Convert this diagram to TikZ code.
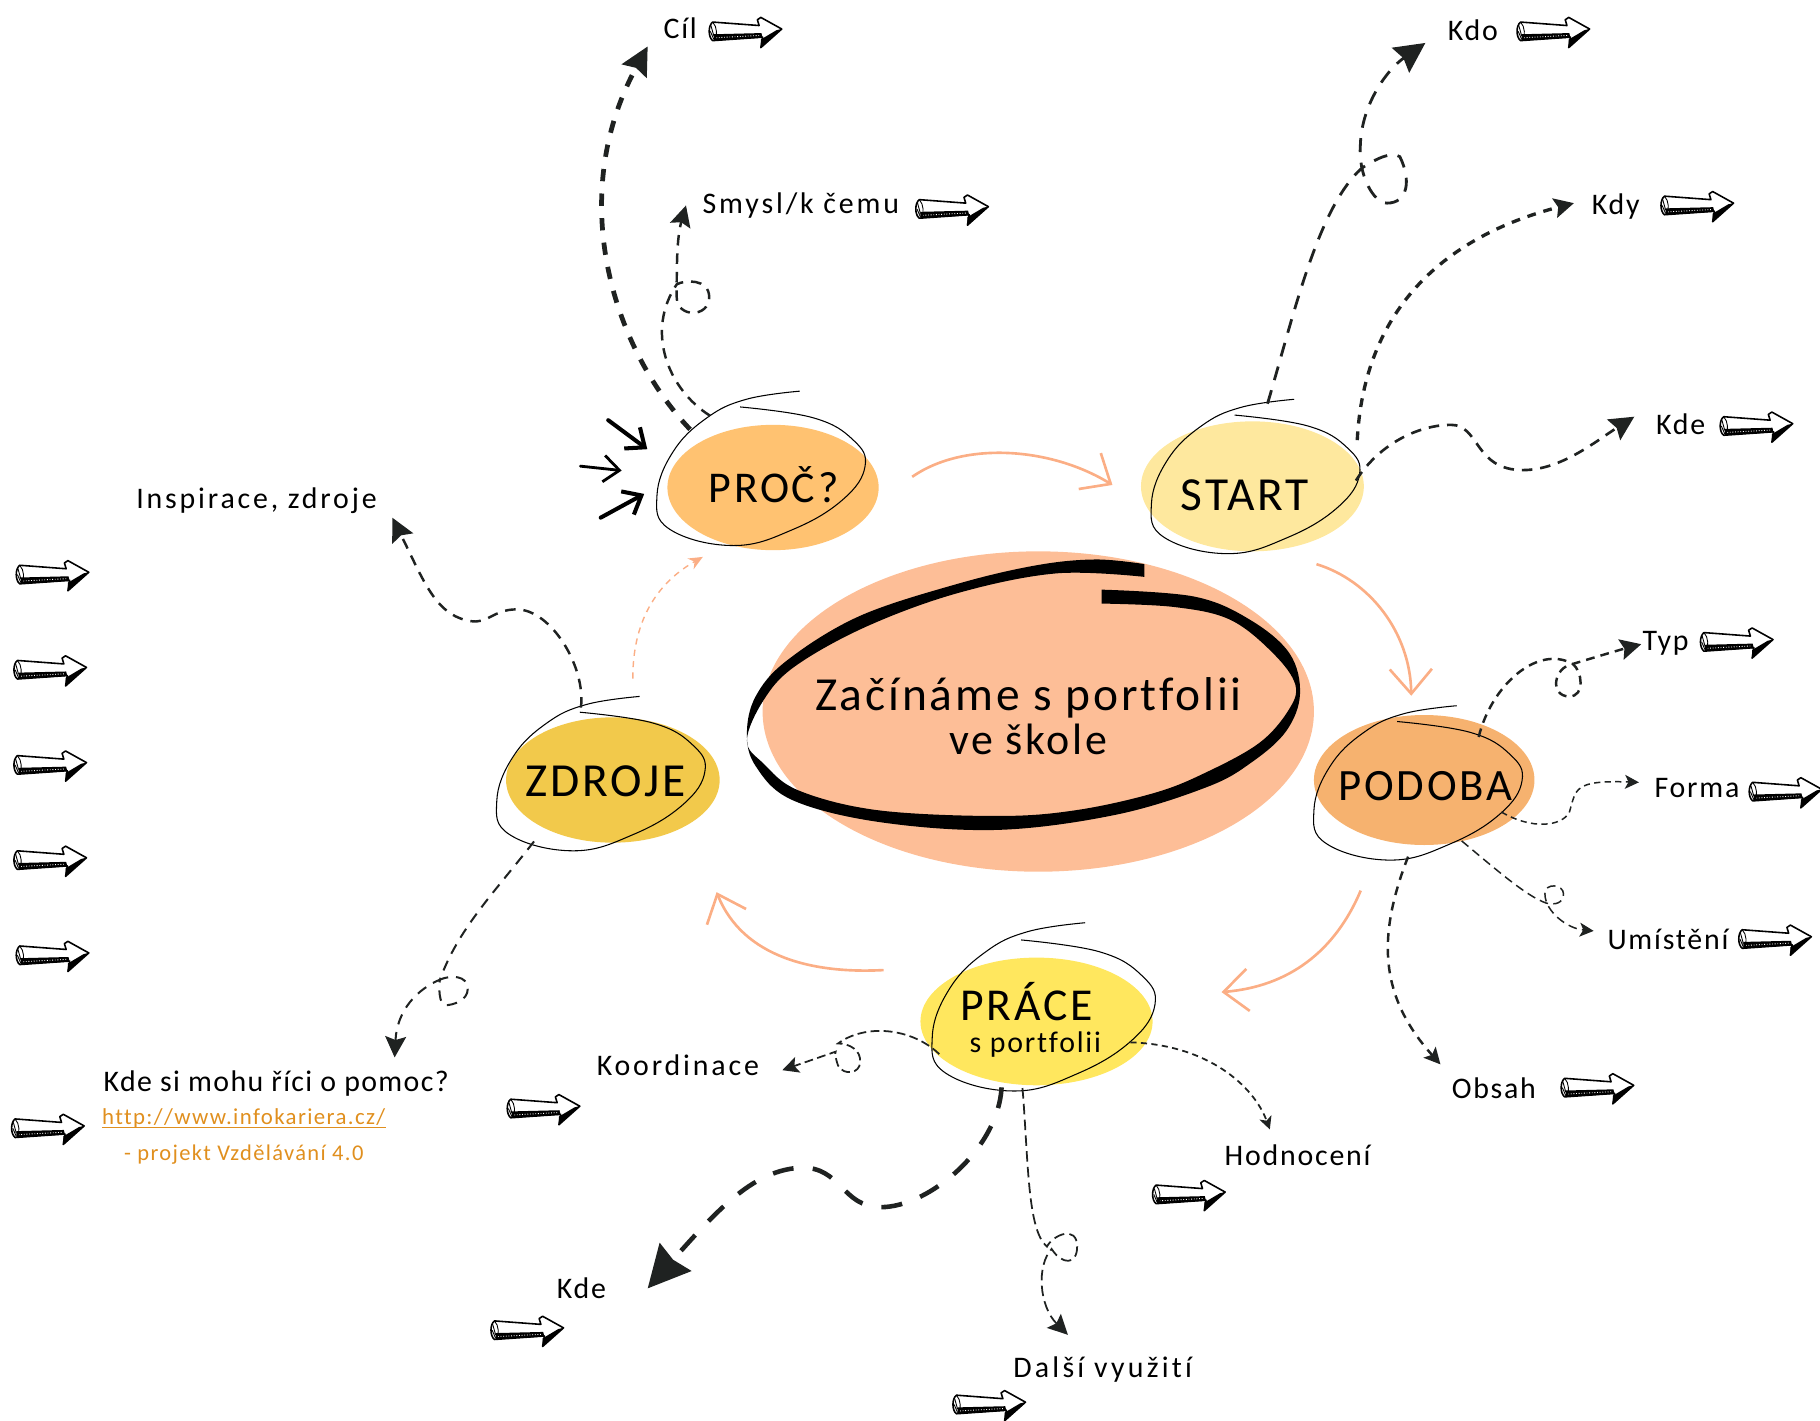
\documentclass[tikz,border=0pt]{standalone}
\usepackage{fontspec}
\setmainfont[LetterSpace=6,Ligatures=NoCommon]{Carlito}
\usetikzlibrary{arrows.meta,shapes.geometric}

\newcommand{\pxu}{0.6605pt}
\definecolor{peach}{HTML}{FDBE97}
\definecolor{peachline}{HTML}{FBAE85}
\definecolor{procfill}{HTML}{FFC271}
\definecolor{startfill}{HTML}{FEE89E}
\definecolor{podobafill}{HTML}{F6B26F}
\definecolor{zdrojefill}{HTML}{F2C94B}
\definecolor{pracefill}{HTML}{FFE75E}
\definecolor{inkdark}{HTML}{1F2221}
\definecolor{linkorange}{HTML}{E08F1E}

\tikzset{
    blob/.style={shape=ellipse,draw=none,inner sep=0pt},
    ringbox/.style={shape=ellipse,draw=none,inner sep=0pt,outer sep=0pt,rotate=18,minimum width=186*\pxu,minimum height=120*\pxu},
    lab/.style={anchor=base,inner sep=0pt,font=\fontsize{17}{20}\selectfont},
    spaced/.style={font=\fontsize{17}{20}\selectfont\addfontfeature{LetterSpace=#1}},
    bigword/.style={anchor=base,inner sep=0pt,font=\fontsize{#1}{30}\selectfont},
    tiphead/.style={-{Stealth[length=#1*\pxu,width=#1*\pxu,inset=3*\pxu]}},
    linkheavy/.style={draw=inkdark,line width=2.7pt,dash pattern=on 7pt off 7pt},
    linkbold/.style={draw=inkdark,line width=1.9pt,dash pattern=on 5pt off 4.5pt},
    linkmid/.style={draw=inkdark,line width=1.4pt,dash pattern=on 6pt off 4.5pt},
    linkthin/.style={draw=inkdark,line width=.85pt,dash pattern=on 3.5pt off 2.5pt},
    flowline/.style={draw=peachline,line width=1.5pt,-{Straight Barb[length=14pt,width=24pt]}},
    pushline/.style={draw=black,line cap=round,-{Straight Barb[length=9pt,width=15pt]}},
    scribble/.pic={
        \draw[line width=.6pt] plot[smooth,tension=.7] coordinates {(33,-67) (-13,-60) (-47,-44) (-76,-15) (-90,23) (-79,52) (-24,66) (27.5,52) (70.6,26) (89.3,-2.4) (79,-25) (44.8,-44) (-18.4,-53.4)};
    },
    handarrow/.pic={
        \filldraw[fill=white,line width=.9pt,line join=round] (3,-8) -- (43,-5) -- (41.5,-10) -- (44.5,-12) -- (62.5,-2) -- (44.5,14) -- (46,5) -- (3,8) .. controls (-1,5) and (-1,-5) .. cycle;
        \fill (4,2.5) -- (45,1.5) -- (46,5.5) -- (4,8) -- cycle;
        \draw[white,densely dotted,line width=.5pt] (6,5.5) -- (44,3.5);
        \fill (62.5,-2) -- (44.5,14) -- (44.5,7) -- (58,-1) -- cycle;
        \draw[line width=.5pt] (3,-8) .. controls (7,-4) and (7,4) .. (5,8);
        \draw[line width=.5pt] (1.5,-5) -- (4,4) (1,0) -- (4,7);
    }
}

\begin{document}
\begin{tikzpicture}[x=\pxu,y=-\pxu]
    \useasboundingbox (0,0) rectangle (1568,1224);

    \node[blob,fill=peach,minimum width=475*\pxu,minimum height=276*\pxu] (centreblob) at (894.5,613) {};
    \node[blob,fill=procfill,minimum width=182*\pxu,minimum height=108*\pxu] (procblob) at (666,420) {};
    \node[blob,fill=startfill,minimum width=192*\pxu,minimum height=112*\pxu] (startblob) at (1079,419) {};
    \node[blob,fill=podobafill,minimum width=190*\pxu,minimum height=112*\pxu] (podobablob) at (1227,672) {};
    \node[blob,fill=zdrojefill,minimum width=184*\pxu,minimum height=108*\pxu] (zdrojeblob) at (528,672) {};
    \node[blob,fill=pracefill,minimum width=200*\pxu,minimum height=110*\pxu] (praceblob) at (893,880) {};

    \fill plot[smooth,tension=.6] coordinates {(986,486) (944,482) (893,487) (825,503) (740,531) (678,569) (651,600) (643.5,632) (651,660) (682,689) (756,708) (859,715) (961,702) (1040,678) (1078,657) (1108,630) (1120,598) (1111,563) (1077,534) (1029,514) (949,508)}
        -- plot[smooth,tension=.6] coordinates {(949,520) (1012,523) (1060,534) (1097,563) (1116,590) (1110,612) (1085,640) (1040,665) (995,683) (927,698) (859,703) (756,698) (688,681) (658,658) (643.5,638) (658,603) (685,574) (746,540) (825,511) (910,494) (986,497)} -- cycle;

    \node[ringbox] (proc) at (656,404) {};
    \node[ringbox] (start) at (1082,411) {};
    \node[ringbox] (podoba) at (1222,675) {};
    \node[ringbox] (zdroje) at (518,667) {};
    \node[ringbox,minimum width=199*\pxu,minimum height=131*\pxu] (prace) at (899.5,868) {};
    \pic at (proc) {scribble};
    \pic at (start) {scribble};
    \pic at (podoba) {scribble};
    \pic at (zdroje) {scribble};
    \pic[xscale=1.07,yscale=1.09] at (prace) {scribble};

    \node[anchor=center,inner sep=0pt,align=center,font=\fontsize{27}{25.5}\selectfont] (centretext) at (886,617) {Začínáme s portfolii\\{\fontsize{25}{25.5}\selectfont ve škole}};
    \node[bigword=25] (proctext) at (666.5,433) {PROČ?};
    \node[bigword=27] (starttext) at (1072.5,440) {START};
    \node[bigword=25.5] (podobatext) at (1228,690) {PODOBA};
    \node[bigword=27] (zdrojetext) at (521.5,686) {ZDROJE};
    \node[bigword=26] (pracetext) at (884.5,879) {PRÁCE};
    \node[lab] (portfoliitext) at (892,907) {s portfolii};

    \node[lab] (cil) at (586,33) {Cíl};
    \node[lab,spaced=9.6] (smysl) at (690,184) {Smysl/k čemu};
    \node[lab] (kdo) at (1269,35) {Kdo};
    \node[lab] (kdy) at (1392,185) {Kdy};
    \node[lab] (kdemisto) at (1448,374) {Kde};
    \node[lab] (typ) at (1435,560) {Typ};
    \node[lab] (forma) at (1462,687) {Forma};
    \node[lab] (umisteni) at (1437,818) {Umístění};
    \node[lab] (obsah) at (1287,946) {Obsah};
    \node[lab] (hodnoceni) at (1118,1004) {Hodnocení};
    \node[lab,spaced=10.8] (vyuziti) at (950,1187) {Další využití};
    \node[lab] (kdedole) at (501,1119) {Kde};
    \node[lab,spaced=9.5] (koordinace) at (584,927) {Koordinace};
    \node[lab,spaced=9.5] (inspirace) at (221,438) {Inspirace, zdroje};
    \node[lab,spaced=4.6] (pomoc) at (238,940) {Kde si mohu říci o pomoc?};
    \node[lab,text=linkorange,font=\fontsize{13}{16}\selectfont] (odkaz) at (210,969) {http://www.infokariera.cz/};
    \draw[linkorange,line width=.9pt] ([yshift=-1.6pt]odkaz.base west) -- ([yshift=-1.6pt]odkaz.base east);
    \node[lab,text=linkorange,font=\fontsize{12.8}{16}\selectfont] (projekt) at (210,1000) {- projekt Vzdělávání 4.0};

    \foreach \ax/\ay in {611/27,789/180,1307/27,1431/177,1482/367,1465/553,1507/682,1498/809,1345/937,993/1029,821/1210,423/1146,437/955,10/972,14/495,12/577,12/659,12/741,14/823}
        \pic at (\ax,\ay) {handarrow};

    \coordinate (cilend) at (558,40);
    \coordinate (smyslend) at (591,177);
    \coordinate (kdoend) at (1228,37);
    \coordinate (kdyend) at (1356,175);
    \coordinate (kdeend) at (1408,359);
    \coordinate (typend) at (1414,555);
    \coordinate (formaend) at (1412,674);
    \coordinate (umistend) at (1373,802);
    \coordinate (obsahend) at (1241,917);
    \coordinate (hodnotend) at (1094,973);
    \coordinate (vyuzend) at (920,1150);
    \coordinate (kdedoleend) at (558,1110);
    \coordinate (koordend) at (674,922);
    \coordinate (inspend) at (338,446);
    \coordinate (pomocend) at (340,911);

    \draw[linkheavy,tiphead=24] (proc.133) .. controls (528,300) and (487,170) .. (cilend);
    \draw[linkmid,tiphead=18] (proc.116) .. controls (575,335) and (556,285) .. (583,245) .. controls (590,241) and (611,240) .. (611,256) .. controls (611,274) and (583,274) .. (583,256) .. controls (583,230) and (583,205) .. (smyslend);
    \draw[linkmid,line width=1.6pt,dash pattern=on 8pt off 6pt,tiphead=26] (start.63) .. controls (1115,270) and (1135,180) .. (1173,145) .. controls (1185,137) and (1199,130) .. (1206,135) .. controls (1216,155) and (1213,175) .. (1195,175) .. controls (1183,175) and (1170,150) .. (1172,125) .. controls (1173,90) and (1195,60) .. (kdoend);
    \draw[linkbold,tiphead=17] (start.2) .. controls (1175,270) and (1240,205) .. (kdyend);
    \draw[linkmid,line width=1.5pt,tiphead=21] (start.-20) .. controls (1190,380) and (1225,366) .. (1250,366) .. controls (1275,366) and (1270,405) .. (1312,405) .. controls (1345,405) and (1375,380) .. (kdeend);
    \draw[linkmid,dash pattern=on 5pt off 3.5pt,tiphead=18] ([shift={(-16,13)}]podoba.20) .. controls (1285,590) and (1325,555) .. (1355,572) .. controls (1363,578) and (1366,600) .. (1352,600) .. controls (1335,600) and (1338,575) .. (1355,572) .. controls (1375,566) and (1395,560) .. (typend);
    \draw[linkthin,tiphead=12] (podoba.-37) .. controls (1320,715) and (1345,712) .. (1352,700) .. controls (1358,680) and (1355,672) .. (formaend);
    \draw[linkthin,dash pattern=on 5pt off 3pt,tiphead=12] (podoba.-71) .. controls (1290,750) and (1315,772) .. (1332,778) .. controls (1340,780) and (1347,778) .. (1347,770) .. controls (1347,762) and (1331,760) .. (1331,770) .. controls (1331,785) and (1350,800) .. (umistend);
    \draw[linkmid,dash pattern=on 5pt off 4pt,tiphead=14] (podoba.-116) .. controls (1185,810) and (1190,860) .. (obsahend);
    \draw[linkthin,line width=1pt,tiphead=11] (prace.-40) .. controls (1040,900) and (1080,935) .. (hodnotend);
    \draw[linkthin,line width=1pt,dash pattern=on 6pt off 3pt,tiphead=17] (prace.-123) .. controls (886,1000) and (885,1060) .. (902,1074) .. controls (907,1064) and (928,1055) .. (928,1074) .. controls (928,1090) and (915,1090) .. (906,1076) .. controls (893,1090) and (895,1125) .. (vyuzend);
    \draw[linkheavy,line width=2.6pt,dash pattern=on 12pt off 11pt,tiphead=36] (prace.-136) .. controls (860,990) and (800,1040) .. (759,1040) .. controls (725,1040) and (725,1005) .. (690,1006) .. controls (650,1008) and (620,1040) .. (kdedoleend);
    \draw[linkthin,line width=1pt,dash pattern=on 5pt off 2.5pt,tiphead=14] (prace.-174) .. controls (785,885) and (745,882) .. (722,899) .. controls (732,899) and (742,905) .. (741,915) .. controls (741,925) and (727,927) .. (722,918) .. controls (720,912) and (719,908) .. (720,906) -- (koordend);
    \draw[linkmid,tiphead=20] (zdroje.89) .. controls (505,575) and (475,525) .. (445,525) .. controls (425,525) and (420,538) .. (405,535) .. controls (375,530) and (365,500) .. (inspend);
    \draw[linkmid,line width=1.15pt,tiphead=18] (zdroje.-153) .. controls (425,770) and (395,800) .. (379,844) .. controls (388,840) and (403,840) .. (403,852) .. controls (403,862) and (390,866) .. (384,866) .. controls (378,866) and (378,850) .. (379,844) .. controls (360,852) and (342,870) .. (pomocend);

    \draw[flowline,shorten <=25pt,shorten >=22pt] (procblob.-8) .. controls (830,380) and (905,385) .. (startblob.190);
    \draw[flowline,shorten <=26.4pt,shorten >=11pt] (startblob.-73) .. controls (1180,500) and (1215,545) .. (podobablob.101);
    \draw[flowline,shorten <=31pt,shorten >=43.6pt] (podobablob.-125) .. controls (1150,820) and (1110,850) .. (praceblob.12);
    \draw[flowline,shorten <=56pt,shorten >=41.7pt] (praceblob.134) .. controls (701,839) and (640,825) .. (zdrojeblob.-30);
    \draw[draw=peachline,line width=.8pt,dash pattern=on 3.5pt off 3pt,-{Stealth[length=8pt,width=7pt]},shorten <=22.5pt,shorten >=15pt] (zdrojeblob.72) .. controls (545,530) and (570,500) .. (procblob.-130);

    \coordinate (pusha) at (524,362);
    \coordinate (pushaend) at (557.7,387);
    \coordinate (pushb) at (500,401.6);
    \coordinate (pushbend) at (535.6,405.4);
    \coordinate (pushc) at (517.5,446);
    \coordinate (pushcend) at (555,425.5);
    \draw[pushline,line width=2.3pt] (pusha) -- (pushaend);
    \draw[pushline,line width=1.6pt] (pushb) -- (pushbend);
    \draw[pushline,line width=2.3pt] (pushc) -- (pushcend);
\end{tikzpicture}
\end{document}
